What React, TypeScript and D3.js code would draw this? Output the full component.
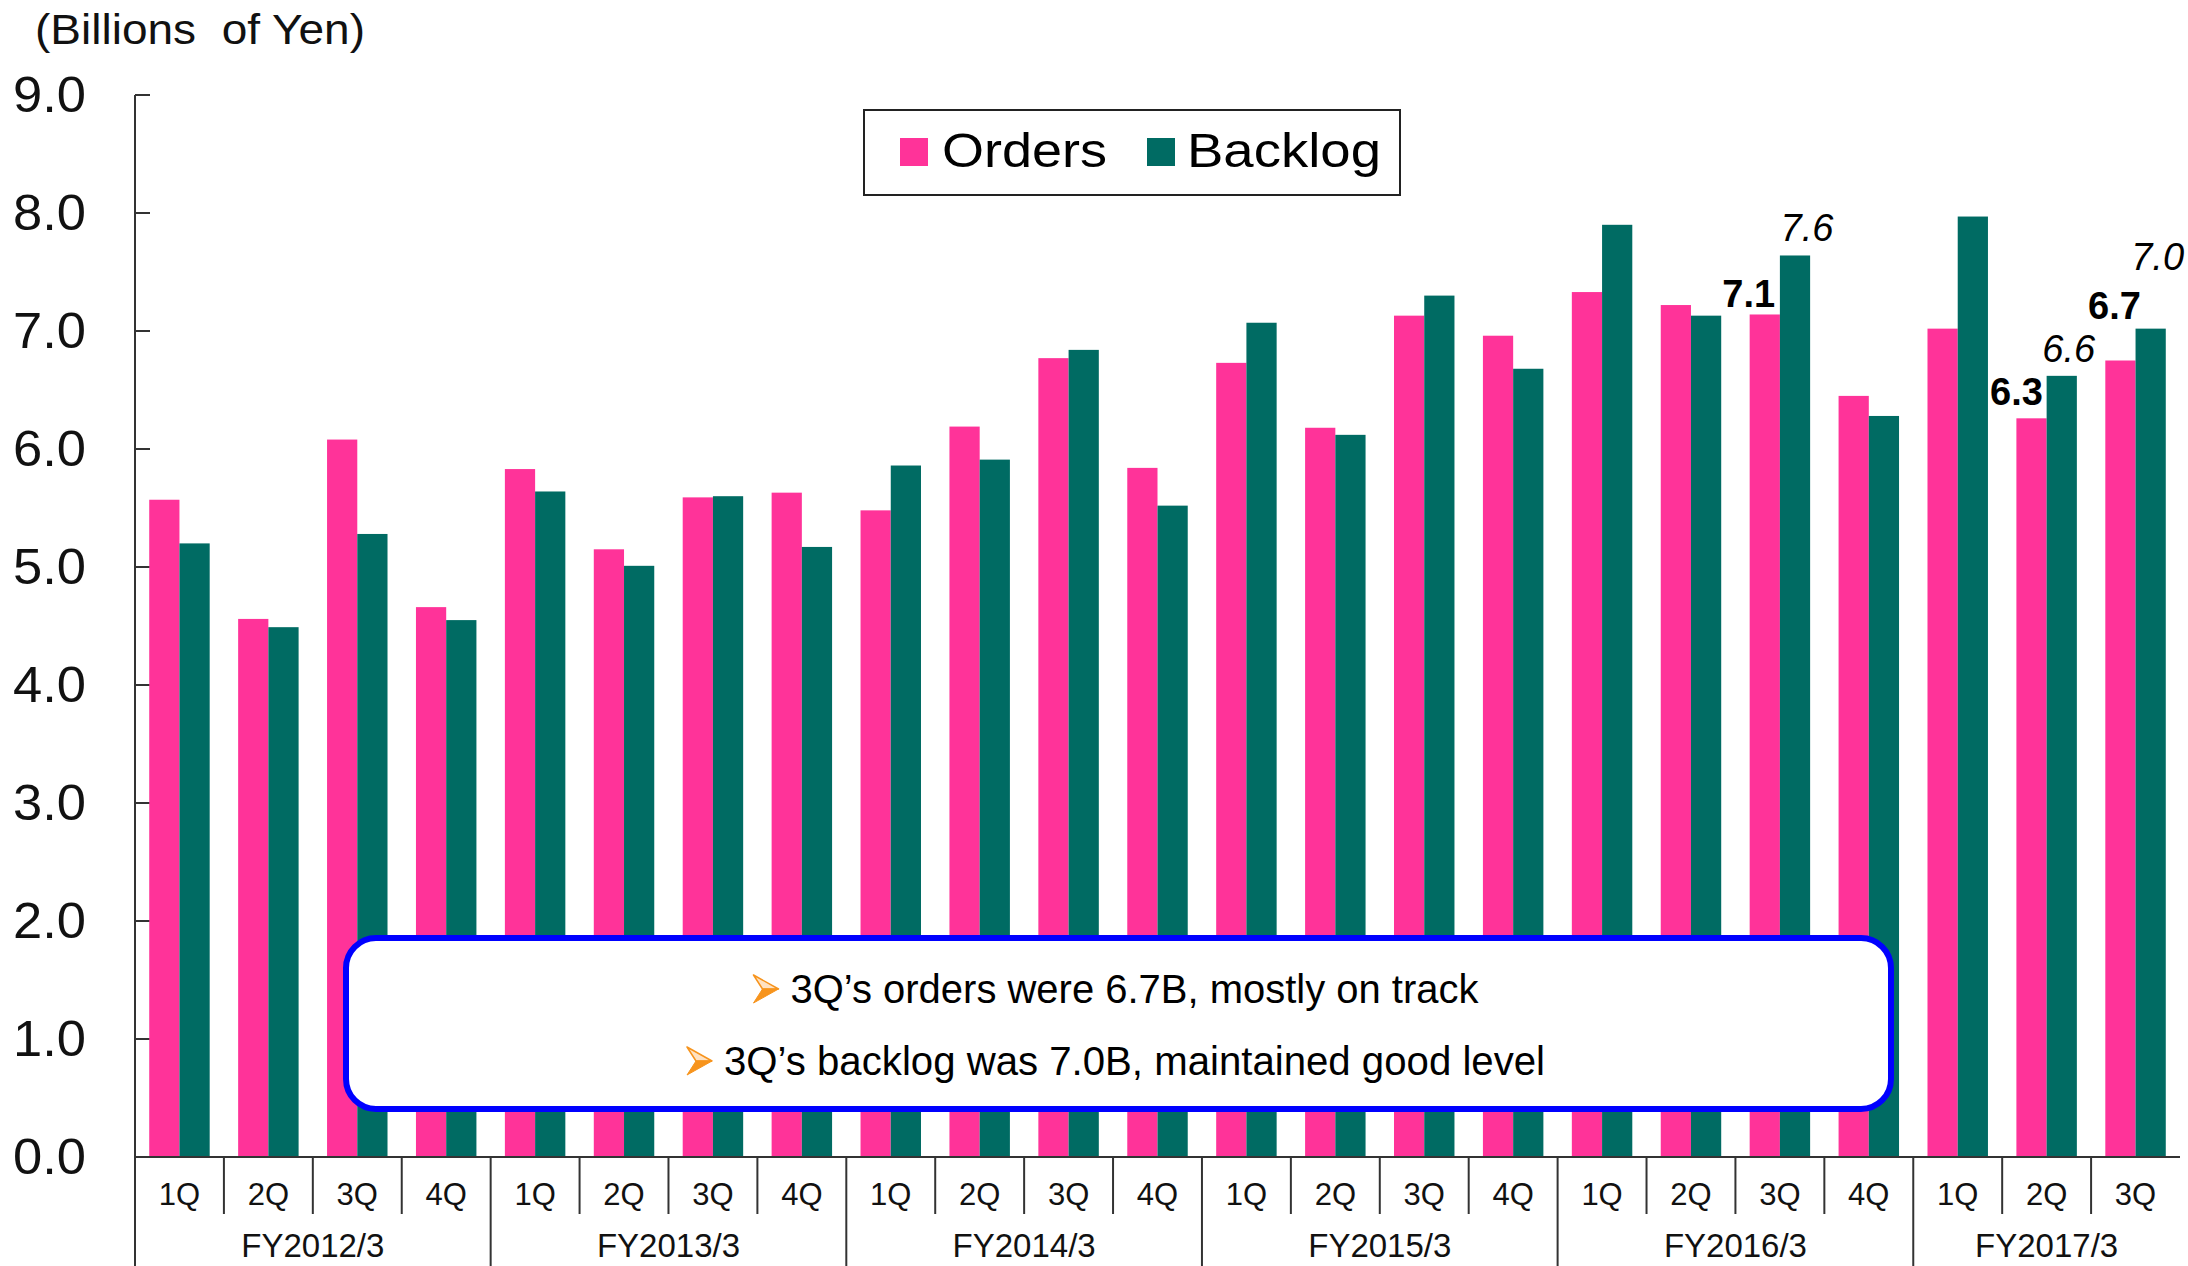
import React from "react";
import * as d3 from "d3";

const quarters = [
  "1Q", "2Q", "3Q", "4Q",
  "1Q", "2Q", "3Q", "4Q",
  "1Q", "2Q", "3Q", "4Q",
  "1Q", "2Q", "3Q", "4Q",
  "1Q", "2Q", "3Q", "4Q",
  "1Q", "2Q", "3Q",
];
const fiscalYears = ["FY2012/3", "FY2013/3", "FY2014/3", "FY2015/3", "FY2016/3", "FY2017/3"];
const quartersPerYear = [4, 4, 4, 4, 4, 3];

const orders = [
  5.57, 4.56, 6.08, 4.66,
  5.83, 5.15, 5.59, 5.63,
  5.48, 6.19, 6.77, 5.84,
  6.73, 6.18, 7.13, 6.96,
  7.33, 7.22, 7.14, 6.45,
  7.02, 6.26, 6.75,
];
const backlog = [
  5.20, 4.49, 5.28, 4.55,
  5.64, 5.01, 5.60, 5.17,
  5.86, 5.91, 6.84, 5.52,
  7.07, 6.12, 7.30, 6.68,
  7.90, 7.13, 7.64, 6.28,
  7.97, 6.62, 7.02,
];
const yTicks = [0, 1, 2, 3, 4, 5, 6, 7, 8, 9];
const seriesNames = ["Orders", "Backlog"];
const unitLabel = "(Billions  of Yen)";

const valueLabels = [
  { series: "Orders", index: 18, text: "7.1" },
  { series: "Backlog", index: 18, text: "7.6" },
  { series: "Orders", index: 21, text: "6.3" },
  { series: "Backlog", index: 21, text: "6.6" },
  { series: "Orders", index: 22, text: "6.7" },
  { series: "Backlog", index: 22, text: "7.0" },
];
const notes = [
  "3Q\u2019s orders were 6.7B, mostly on track",
  "3Q\u2019s backlog was 7.0B, maintained good level",
];

// layout (not data)
const W = 2188;
const H = 1266;
const FONT = "'Liberation Sans', Arial, Helvetica, sans-serif";
const PINK = "#FF3399";
const TEAL = "#006B63";
const labelOffsets = [
  { dx: -16, dy: 7 },
  { dx: 12, dy: 14 },
  { dx: -15, dy: 13 },
  { dx: 7, dy: 14 },
  { dx: -6, dy: 42 },
  { dx: 7, dy: 59 },
];
const noteLengths = [688, 821];

export default function App() {
  const x0 = 135;
  const x1 = 2180;
  const yTop = 95;
  const yBase = 1157;

  const idx = quarters.map((_, i) => i);
  const x = d3.scaleBand<number>().domain(idx).range([x0, x1]).paddingInner(0).paddingOuter(0);
  const bw = x.bandwidth();
  const xs = d3.scaleBand<string>().domain(seriesNames).range([bw * 0.16, bw * 0.84]).padding(0);
  const y = d3.scaleLinear().domain([0, 9]).range([yBase, yTop]);

  const seriesValues: Record<string, number[]> = { Orders: orders, Backlog: backlog };
  const seriesColor: Record<string, string> = { Orders: PINK, Backlog: TEAL };

  const yearStarts: number[] = [];
  let acc = 0;
  quartersPerYear.forEach((n) => {
    yearStarts.push(acc);
    acc += n;
  });

  const boxX = 346, boxY = 938, boxW = 1545, boxH = 171;
  const boxCx = boxX + boxW / 2;
  const noteBaselines = [1003, 1075];

  const arrow = (ax: number, ay: number, key: string) => {
    const w = 25, h = 28, nx = ax + 9;
    return (
      <g key={key}>
        <path d={`M${ax},${ay - h / 2} L${ax + w},${ay} L${nx},${ay} Z`} fill="#FFE2C2" stroke="#F7941D" strokeWidth={1.5} strokeLinejoin="round" />
        <path d={`M${ax},${ay + h / 2} L${ax + w},${ay} L${nx},${ay} Z`} fill="#F7941D" stroke="#F7941D" strokeWidth={1} strokeLinejoin="round" />
      </g>
    );
  };

  return (
    <svg width={W} height={H} style={{ position: "absolute", left: 0, top: 0, display: "block", background: "#fff" }} fontFamily={FONT}>
      <rect x={0} y={0} width={W} height={H} fill="#fff" />
      <text x={35} y={44} fontSize={42} textLength={330} lengthAdjust="spacingAndGlyphs" fill="#111" style={{ whiteSpace: "pre" }}>
        {unitLabel}
      </text>

      {/* y axis */}
      <line x1={x0} x2={x0} y1={yTop} y2={H} stroke="#333" strokeWidth={2} />
      {yTicks.map((t) => (
        <g key={t}>
          <line x1={x0} x2={x0 + 15} y1={y(t)} y2={y(t)} stroke="#333" strokeWidth={2} />
          <text transform={`translate(86,${y(t) + 17}) scale(1.05,1)`} textAnchor="end" fontSize={50} fill="#111">
            {t.toFixed(1)}
          </text>
        </g>
      ))}

      {/* bars */}
      {seriesNames.map((s) => (
        <g key={s}>
          {seriesValues[s].map((v, i) => (
            <rect
              key={i}
              x={(x(i) as number) + (xs(s) as number)}
              y={y(v)}
              width={xs.bandwidth()}
              height={yBase - y(v)}
              fill={seriesColor[s]}
            />
          ))}
        </g>
      ))}

      {/* value labels */}
      {valueLabels.map((l, k) => {
        const v = seriesValues[l.series][l.index];
        const cx = (x(l.index) as number) + (xs(l.series) as number) + xs.bandwidth() / 2 + labelOffsets[k].dx;
        const isOrders = l.series === "Orders";
        return (
          <text
            key={k}
            x={cx}
            y={y(v) - labelOffsets[k].dy}
            textAnchor="middle"
            fontSize={38}
            fontWeight={isOrders ? "bold" : "normal"}
            fontStyle={isOrders ? "normal" : "italic"}
            fill="#000"
          >
            {l.text}
          </text>
        );
      })}

      {/* x axis & category boxes */}
      <line x1={x0} x2={x1} y1={yBase} y2={yBase} stroke="#333" strokeWidth={2} />
      {idx.slice(1).map((i) => {
        const isYear = yearStarts.includes(i);
        return (
          <line key={i} x1={x(i) as number} x2={x(i) as number} y1={yBase} y2={isYear ? H : 1214} stroke="#333" strokeWidth={2} />
        );
      })}
      {quarters.map((q, i) => (
        <text key={i} x={(x(i) as number) + bw / 2} y={1205} textAnchor="middle" fontSize={31} fill="#111">
          {q}
        </text>
      ))}
      {fiscalYears.map((fy, k) => {
        const start = x(yearStarts[k]) as number;
        const end = start + quartersPerYear[k] * bw;
        return (
          <text key={fy} x={(start + end) / 2} y={1257} textAnchor="middle" fontSize={33} fill="#111">
            {fy}
          </text>
        );
      })}

      {/* legend */}
      <rect x={864} y={110} width={536} height={85} fill="#fff" stroke="#222" strokeWidth={2} />
      <rect x={900} y={138} width={28} height={28} fill={PINK} />
      <text x={942} y={167} fontSize={48} textLength={165} lengthAdjust="spacingAndGlyphs" fill="#000">
        {seriesNames[0]}
      </text>
      <rect x={1147} y={138} width={28} height={28} fill={TEAL} />
      <text x={1187} y={167} fontSize={48} textLength={194} lengthAdjust="spacingAndGlyphs" fill="#000">
        {seriesNames[1]}
      </text>

      {/* annotation box */}
      <rect x={boxX} y={boxY} width={boxW} height={boxH} rx={30} ry={30} fill="#fff" stroke="#0000FF" strokeWidth={6} />
      {notes.map((n, k) => {
        const len = noteLengths[k];
        const tx = boxCx + 16 - len / 2;
        return (
          <g key={k}>
            {arrow(tx - 37, noteBaselines[k] - 14, "a" + k)}
            <text x={tx} y={noteBaselines[k]} fontSize={40} textLength={len} lengthAdjust="spacingAndGlyphs" fill="#000">
              {n}
            </text>
          </g>
        );
      })}
    </svg>
  );
}
